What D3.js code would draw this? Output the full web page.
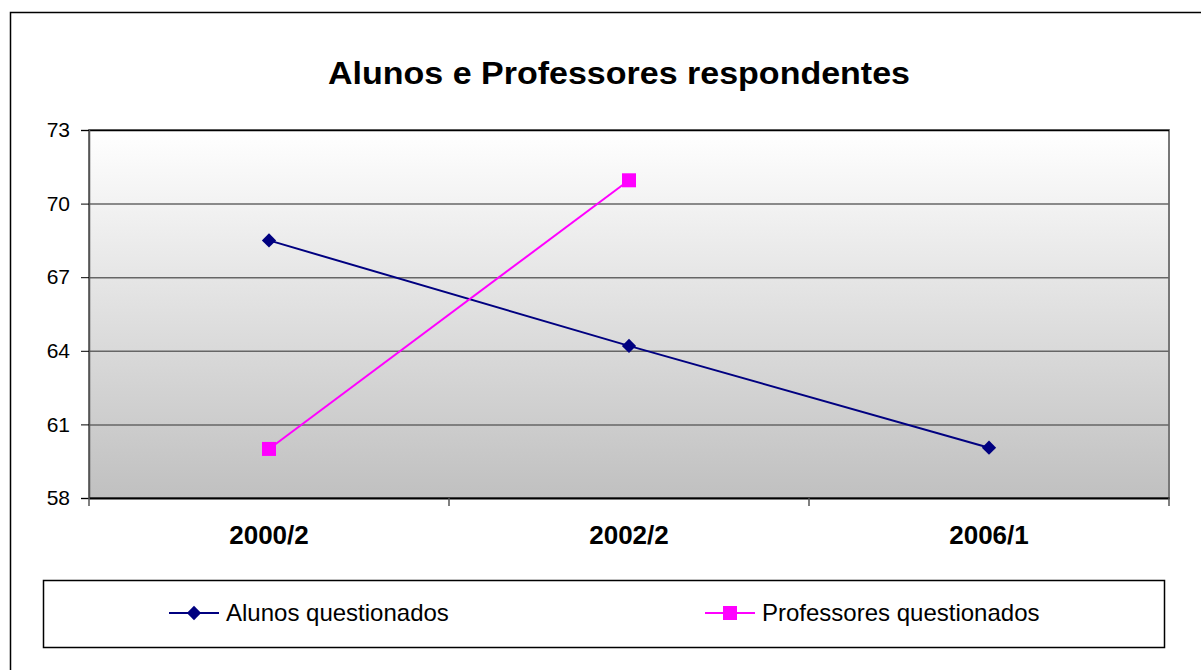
<!DOCTYPE html>
<html lang="pt">
    <head>
        <meta charset="utf-8">
        <title>Alunos e Professores respondentes</title>
        <script src="https://d3js.org/d3.v7.min.js"></script>
        <style type="text/css">
            body { margin: 0; background: #fff; }
            svg { display: block; font-family: Arial, "Liberation Sans", sans-serif; }
            .axis text { font-size: 21px; fill: #000; }
            .xaxis text { font-size: 26px; font-weight: bold; }
            .line { fill: none; stroke-width: 2px; }
        </style>
    </head>
    <body>
        <script type="text/javascript">

            const w = 1201;
            const h = 670;

            // data
            const periods = ["2000/2", "2002/2", "2006/1"];
            const alunos = [68.5, 64.2, 60.05];
            const professores = [60.0, 70.95];
            const yTicks = [58, 61, 64, 67, 70, 73];
            const seriesNames = ["Alunos questionados", "Professores questionados"];
            const seriesColors = ["#000080", "#ff00ff"];

            const plot = {left: 89, right: 1169, top: 130, bottom: 498};

            const svg = d3.select("body").append("svg").attr("width", w).attr("height", h);

            // outer chart frame
            svg.append("rect")
                .attr("x", 10.5).attr("y", 12.5)
                .attr("width", 1200).attr("height", 700)
                .attr("fill", "#fff").attr("stroke", "#000").attr("stroke-width", 1.5);

            svg.append("text")
                .attr("x", 619).attr("y", 84)
                .attr("text-anchor", "middle")
                .attr("textLength", 582).attr("lengthAdjust", "spacingAndGlyphs")
                .style("font-size", "32px").style("font-weight", "bold")
                .text("Alunos e Professores respondentes");

            const xScale = d3.scaleBand().domain(periods).range([plot.left, plot.right]);
            const xPos = d => xScale(d) + xScale.bandwidth() / 2;
            const yScale = d3.scaleLinear().domain([58, 73]).range([plot.bottom, plot.top]);

            // background gradient
            const grad = svg.append("defs").append("linearGradient")
                .attr("id", "bg").attr("x1", 0).attr("y1", 0).attr("x2", 0).attr("y2", 1);
            grad.append("stop").attr("offset", "0%").attr("stop-color", "#ffffff");
            grad.append("stop").attr("offset", "100%").attr("stop-color", "#c0c0c0");

            svg.append("rect")
                .attr("x", plot.left).attr("y", plot.top)
                .attr("width", plot.right - plot.left).attr("height", plot.bottom - plot.top)
                .attr("fill", "url(#bg)")
                .attr("stroke", "#777").attr("stroke-width", 2);

            // gridlines
            svg.selectAll(".grid")
                .data(yTicks.slice(1))
                .enter().append("line")
                .attr("class", "grid")
                .attr("x1", plot.left).attr("x2", plot.right)
                .attr("y1", d => yScale(d) + 0.5).attr("y2", d => yScale(d) + 0.5)
                .attr("stroke", d => d === 73 ? "#000" : "#666")
                .attr("stroke-width", 1.5);

            const leftAxis = d3.axisLeft(yScale).tickValues(yTicks).tickSize(8).tickPadding(11);
            const gy = svg.append("g")
                .attr("class", "axis")
                .attr("transform", "translate(" + plot.left + ",0)")
                .call(leftAxis);
            gy.select(".domain").attr("stroke", "#555").attr("stroke-width", 1.5);
            gy.selectAll(".tick line").attr("stroke", "#000");

            const bottomAxis = d3.axisBottom(xScale).tickSize(0).tickPadding(28);
            const gx = svg.append("g")
                .attr("class", "axis xaxis")
                .attr("transform", "translate(0," + plot.bottom + ")")
                .call(bottomAxis);
            gx.select(".domain").attr("stroke", "#000").attr("stroke-width", 2);

            // category separators below the axis
            const edges = periods.map(p => xScale(p)).concat([plot.right]);
            svg.selectAll(".xtick")
                .data(edges)
                .enter().append("line")
                .attr("x1", d => d).attr("x2", d => d)
                .attr("y1", plot.bottom).attr("y2", plot.bottom + 8)
                .attr("stroke", "#555").attr("stroke-width", 1.5);

            const lineGen = d3.line().x((d, i) => xPos(periods[i])).y(d => yScale(d));

            svg.append("path").attr("class", "line")
                .attr("d", lineGen(alunos)).style("stroke", seriesColors[0]);
            svg.append("path").attr("class", "line")
                .attr("d", lineGen(professores)).style("stroke", seriesColors[1]);

            const diamond = d3.symbol().type(d3.symbolDiamond2).size(130);
            svg.selectAll(".dmark")
                .data(alunos)
                .enter().append("path")
                .attr("d", diamond)
                .attr("transform", (d, i) => `translate(${xPos(periods[i])},${yScale(d)})`)
                .attr("fill", seriesColors[0]);

            svg.selectAll(".smark")
                .data(professores)
                .enter().append("rect")
                .attr("x", (d, i) => xPos(periods[i]) - 7)
                .attr("y", d => yScale(d) - 7)
                .attr("width", 14).attr("height", 14)
                .attr("fill", seriesColors[1]);

            // legend
            svg.append("rect")
                .attr("x", 43.5).attr("y", 580.5)
                .attr("width", 1121).attr("height", 67)
                .attr("fill", "#fff").attr("stroke", "#000").attr("stroke-width", 1.5);

            const legend = svg.selectAll(".legend")
                .data(seriesNames)
                .enter().append("g")
                .attr("class", "legend")
                .attr("transform", (d, i) => `translate(${i === 0 ? 169 : 705},613)`);

            legend.append("line")
                .attr("x1", 0).attr("x2", 50)
                .attr("stroke", (d, i) => seriesColors[i]).attr("stroke-width", 2);

            legend.filter((d, i) => i === 0).append("path")
                .attr("d", diamond)
                .attr("transform", "translate(25,0)")
                .attr("fill", seriesColors[0]);

            legend.filter((d, i) => i === 1).append("rect")
                .attr("x", 18).attr("y", -7).attr("width", 14).attr("height", 14)
                .attr("fill", seriesColors[1]);

            legend.append("text")
                .attr("x", 57).attr("y", 0).attr("dy", "0.35em")
                .style("font-size", "24px")
                .text(d => d);
        </script>
    </body>
</html>
